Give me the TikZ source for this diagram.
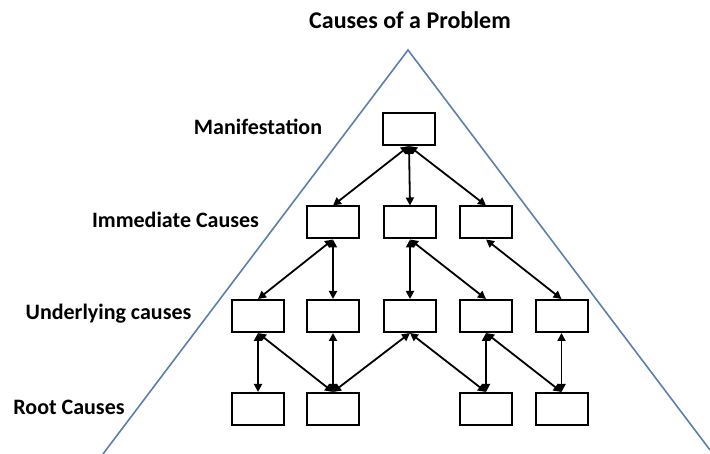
\documentclass[tikz,border=0pt]{standalone}
\usepackage{fontspec}
\setmainfont{Carlito}
\usetikzlibrary{arrows.meta}
\definecolor{tribl}{RGB}{92,128,172}
\tikzset{
  box/.style={draw=black, line width=2pt, minimum width=52pt, minimum height=32pt, inner sep=0pt},
  arr/.style={line width=1.8pt, {Triangle[length=8pt,width=8pt]}-{Triangle[length=8pt,width=8pt]}},
  lbl/.style={font=\fontsize{22}{26}\selectfont\bfseries, anchor=base, inner sep=0pt},
  ttl/.style={font=\fontsize{24}{28}\selectfont\bfseries, anchor=base, inner sep=0pt}
}
\begin{document}
\begin{tikzpicture}[x=1pt,y=-1pt]
\useasboundingbox (0,0) rectangle (710,454);
\fill[white] (0,0) rectangle (710,454);
\begin{scope}
\clip (0,0) rectangle (710,454);
\draw[tribl, line width=1.6pt] (103,454) -- (408,50) -- (710,450);
\end{scope}
% title and labels
\node[ttl] (title) at (410,29) {Causes of a Problem};
\node[lbl] (lm) at (258,134.5) {Manifestation};
\node[lbl] (li) at (175.5,228) {Immediate Causes};
\node[lbl] (lu) at (108.5,319.5) {Underlying causes};
\node[lbl] (lr) at (69,414) {Root Causes};
% boxes
\node[box] (M) at (409,129) {};
\node[box] (I1) at (333,222.5) {};
\node[box] (I2) at (410,222.5) {};
\node[box] (I3) at (486,222.5) {};
\node[box] (U1) at (258,316) {};
\node[box] (U2) at (333,316) {};
\node[box] (U3) at (410,316) {};
\node[box] (U4) at (486,316) {};
\node[box] (U5) at (561.5,316) {};
\node[box] (R1) at (258,409) {};
\node[box] (R2) at (333,409) {};
\node[box] (R3) at (486,409) {};
\node[box] (R4) at (561.5,409) {};
% arrows
\draw[arr] (M.south) -- (I1.north);
\draw[arr] (M.south) -- (I2.north);
\draw[arr] (M.south) -- (I3.north);
\draw[arr] (I1.south) -- (U1.north);
\draw[arr] (I1.south) -- (U2.north);
\draw[arr] (I2.south) -- (U3.north);
\draw[arr] (I2.south) -- (U4.north);
\draw[arr] (I3.south) -- (U5.north);
\draw[arr] (U1.south) -- (R1.north);
\draw[arr] (U1.south) -- (R2.north);
\draw[arr] (U2.south) -- (R2.north);
\draw[arr] (U3.south) -- (R2.north);
\draw[arr] (U3.south) -- (R3.north);
\draw[arr] (U4.south) -- (R3.north);
\draw[arr] (U4.south) -- (R4.north);
\draw[arr] (U5.south) -- (R4.north);
\end{tikzpicture}
\end{document}
